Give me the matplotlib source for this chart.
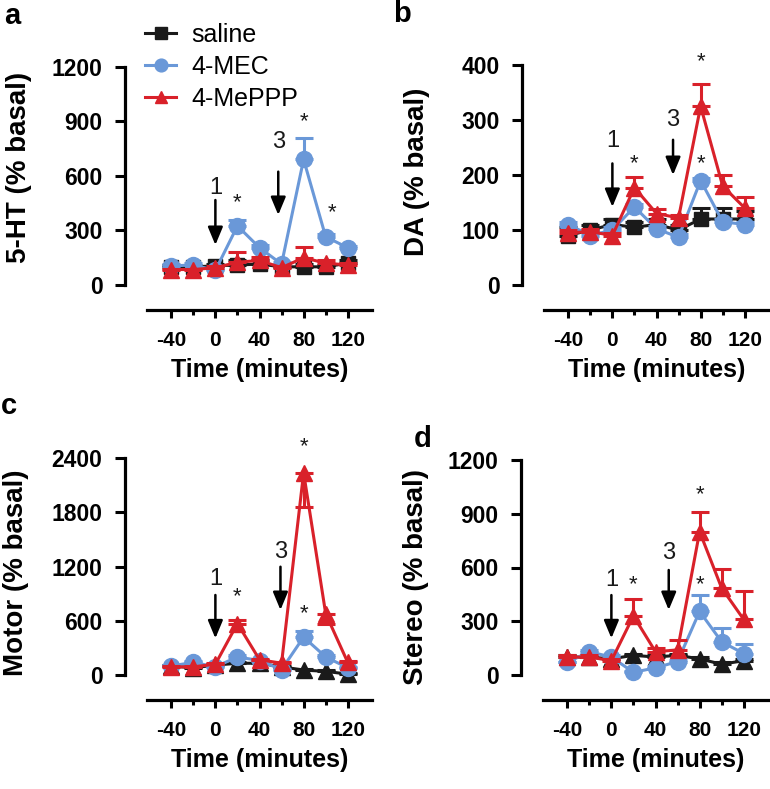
import numpy as np
import matplotlib.pyplot as plt

# Figure size in pixels (saved at 100 dpi).
W, H = 770, 789

plt.rcParams['font.family'] = ['Liberation Sans', 'DejaVu Sans']
plt.rcParams['axes.unicode_minus'] = False

BLACK = '#1a1a1a'
BLUE = '#6a98d8'
RED = '#d9212a'

# Sampling times (minutes).
time = [-40, -20, 0, 20, 40, 60, 80, 100, 120]
series_names = ['saline', '4-MEC', '4-MePPP']

# a: 5-HT (% basal)
sal_a = [100, 100, 105, 110, 115, 100, 100, 100, 120]
sal_a_err = [10, 10, 10, 30, 20, 10, 15, 10, 20]
mec_a = [105, 110, 80, 325, 205, 115, 690, 265, 205]
mec_a_err = [10, 10, 10, 35, 15, 10, 120, 15, 10]
ppp_a = [85, 85, 95, 125, 135, 95, 150, 120, 110]
ppp_a_err = [5, 5, 10, 55, 20, 10, 60, 15, 10]

# b: DA (% basal)
sal_b = [90, 100, 110, 105, 110, 100, 120, 120, 120]
sal_b_err = [15, 10, 10, 10, 10, 10, 20, 20, 15]
mec_b = [110, 90, 100, 142, 102, 87, 190, 115, 110]
mec_b_err = [5, 5, 5, 5, 5, 5, 5, 5, 5]
ppp_b = [95, 97, 90, 177, 130, 122, 325, 180, 140]
ppp_b_err = [5, 5, 5, 20, 8, 5, 40, 20, 20]

# c: Motor (% basal)
sal_c = [100, 80, 110, 130, 130, 90, 55, 40, 10]
sal_c_err = [10, 10, 10, 10, 10, 10, 10, 10, 10]
mec_c = [100, 140, 90, 200, 160, 60, 420, 200, 80]
mec_c_err = [10, 10, 10, 20, 10, 10, 70, 20, 10]
ppp_c = [90, 90, 120, 570, 170, 130, 2240, 680, 140]
ppp_c_err = [10, 10, 10, 40, 10, 10, 0, 0, 10]
ppp_c_err_low = [0, 0, 0, 0, 0, 0, 380, 120, 0]

# d: Stereo (% basal)
sal_d = [100, 100, 90, 110, 100, 110, 90, 60, 80]
sal_d_err = [10, 10, 10, 10, 10, 10, 10, 10, 10]
mec_d = [70, 130, 100, 15, 40, 75, 355, 185, 120]
mec_d_err = [5, 10, 10, 10, 10, 10, 90, 75, 55]
ppp_d = [100, 100, 80, 330, 130, 140, 800, 485, 310]
ppp_d_err = [10, 10, 10, 95, 20, 55, 110, 105, 160]

# Significance stars (time, value) and dose arrows (label, time, text y, start, end).
stars_a = [(20, 455), (80, 897), (106, 395)]
stars_b = [(20, 221), (80, 406), (80, 221)]
stars_c = [(20, 870), (80, 2527), (80, 683)]
stars_d = [(20, 502), (80, 1004), (80, 506)]
arrows_a = [('1', 0, 531, 467, 220), ('3', 57, 784, 623, 385)]
arrows_b = [('1', 0, 262, 221, 142), ('3', 55, 300, 264, 200)]
arrows_c = [('1', 0, 1060, 886, 406), ('3', 59, 1360, 1199, 720)]
arrows_d = [('1', 0, 530, 446, 205), ('3', 52, 680, 586, 363)]


def rect(left, top, right, bottom):
    return [left / W, 1 - bottom / H, (right - left) / W, (bottom - top) / H]


def panel(ax, ymax, yticks, sal, sal_err, mec, mec_err, ppp, ppp_err,
          stars, arrows, sal_marker='s', ppp_err_low=None):
    zeros = np.zeros(len(time))
    low = zeros if ppp_err_low is None else ppp_err_low
    kw = dict(lw=2.2, capsize=6.5, capthick=2.2, elinewidth=2.2, clip_on=False)
    h1 = ax.errorbar(time, sal, yerr=[zeros, sal_err], fmt='-' + sal_marker,
                     ms=10 if sal_marker == 's' else 11, color=BLACK, zorder=3, **kw)
    h2 = ax.errorbar(time, mec, yerr=[zeros, mec_err], fmt='-o', ms=11.5,
                     color=BLUE, zorder=4, **kw)
    h3 = ax.errorbar(time, ppp, yerr=[low, ppp_err], fmt='-^', ms=11.5,
                     color=RED, zorder=5, **kw)

    ax.set_xlim(-62, 142)
    ax.set_ylim(0, ymax)
    ax.set_yticks(yticks)
    ax.set_xticks([-40, 0, 40, 80, 120])
    ax.set_xticks([-20, 20, 60, 100], minor=True)
    for s in ['top', 'right']:
        ax.spines[s].set_visible(False)
    ax.spines['left'].set_position(('outward', 16))
    ax.spines['bottom'].set_position(('outward', 18))
    ax.spines['left'].set_linewidth(2.3)
    ax.spines['bottom'].set_linewidth(2.3)
    ax.tick_params(axis='y', length=7, width=2.2, pad=9, labelsize=16.5)
    ax.tick_params(axis='x', which='major', length=6, width=2.2, pad=9, labelsize=15)
    ax.tick_params(axis='x', which='minor', length=3.5, width=2.2)
    for lab in ax.get_xticklabels() + ax.get_yticklabels():
        lab.set_fontweight('bold')
    ax.set_xlabel('Time (minutes)', fontsize=18, fontweight='bold', labelpad=6)

    for x, y in stars:
        ax.text(x, y, '*', ha='center', va='center', fontsize=16, color=BLACK)
    for label, x, ty, y0, y1 in arrows:
        ax.text(x, ty, label, ha='center', va='center', fontsize=17, color=BLACK)
        ax.annotate('', xy=(x, y1), xytext=(x, y0),
                    arrowprops=dict(arrowstyle='-|>,head_length=0.6,head_width=0.25',
                                    color='black', lw=1.8, mutation_scale=18,
                                    shrinkA=0, shrinkB=0))
    return [h1.lines[0], h2.lines[0], h3.lines[0]]


fig = plt.figure(figsize=(W / 100, H / 100), dpi=100)
ax_a = fig.add_axes(rect(147, 66.7, 372, 285))
ax_b = fig.add_axes(rect(544, 65, 769, 285))
ax_c = fig.add_axes(rect(147, 458.3, 372, 675))
ax_d = fig.add_axes(rect(543, 460, 768, 675))

handles = panel(ax_a, 1200, [0, 300, 600, 900, 1200], sal_a, sal_a_err,
                mec_a, mec_a_err, ppp_a, ppp_a_err, stars_a, arrows_a)
panel(ax_b, 400, [0, 100, 200, 300, 400], sal_b, sal_b_err,
      mec_b, mec_b_err, ppp_b, ppp_b_err, stars_b, arrows_b)
panel(ax_c, 2400, [0, 600, 1200, 1800, 2400], sal_c, sal_c_err,
      mec_c, mec_c_err, ppp_c, ppp_c_err, stars_c, arrows_c,
      sal_marker='^', ppp_err_low=ppp_c_err_low)
panel(ax_d, 1200, [0, 300, 600, 900, 1200], sal_d, sal_d_err,
      mec_d, mec_d_err, ppp_d, ppp_d_err, stars_d, arrows_d, sal_marker='^')

# y-axis titles
ylabels = [('5-HT (% basal)', 19, 167), ('DA (% basal)', 417, 172),
           ('Motor (% basal)', 16, 573), ('Stereo (% basal)', 416, 577)]
for text, px, py in ylabels:
    fig.text(px / W, 1 - py / H, text, rotation=90, ha='center', va='center',
             fontsize=20, fontweight='bold')

# panel letters
for letter, px, py in [('a', 12, 16), ('b', 402, 14), ('c', 9, 406), ('d', 423, 439)]:
    fig.text(px / W, 1 - py / H, letter, ha='center', va='center',
             fontsize=21, fontweight='bold')

fig.legend(handles, series_names, loc='upper left', bbox_to_anchor=(145 / W, 1 - 23 / H),
           frameon=False, fontsize=18, handlelength=1.25, handletextpad=0.6,
           labelspacing=0.32, markerscale=0.8, borderaxespad=0, borderpad=0)

fig.savefig('out.png', dpi=100)
